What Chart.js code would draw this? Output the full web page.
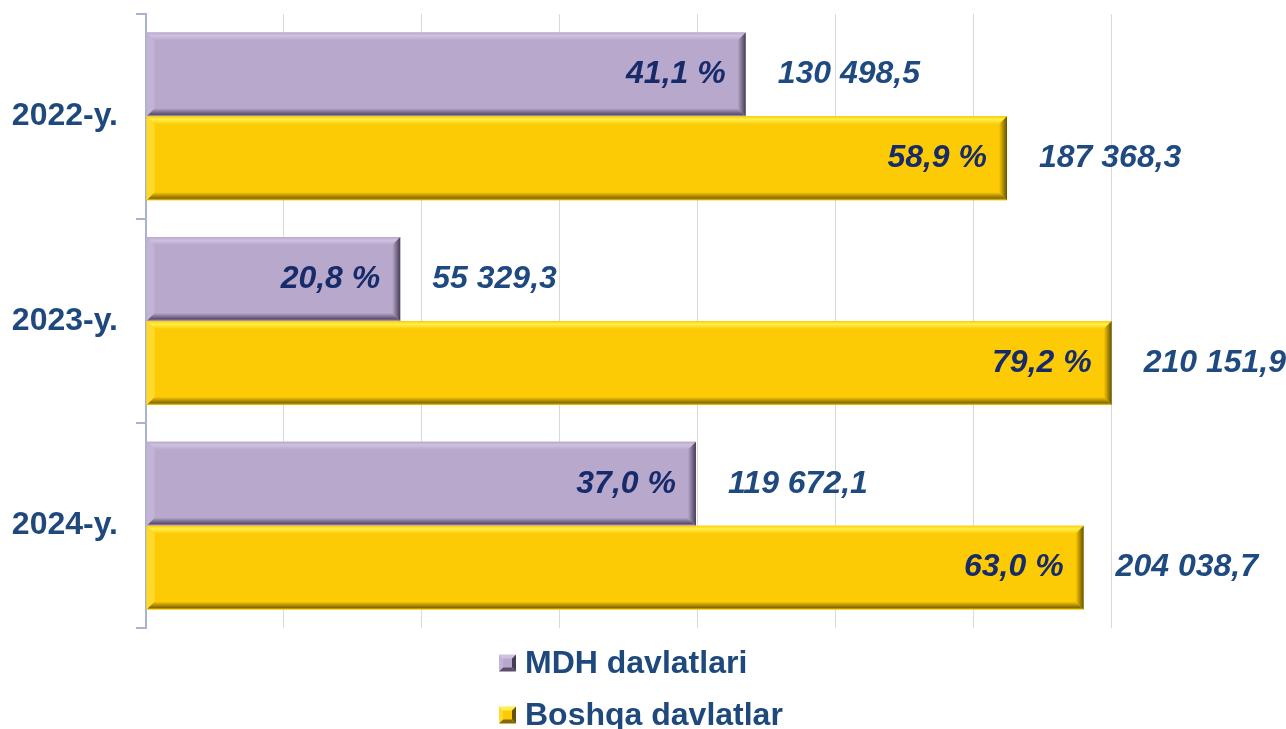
<!DOCTYPE html>
<html>
<head>
<meta charset="utf-8">
<script src="https://cdn.jsdelivr.net/npm/chart.js@4.4.1/dist/chart.umd.min.js"></script>
<style>
  html, body { margin: 0; padding: 0; background: #fff; }
  #wrap { width: 1286px; height: 729px; }
</style>
</head>
<body>
<div id="wrap"><canvas id="chart"></canvas></div>
<script>
// chart data
var years = ['2022-y.', '2023-y.', '2024-y.'];
var seriesNames = ['MDH davlatlari', 'Boshqa davlatlar'];
var mdhValues = [130498.5, 55329.3, 119672.1];
var otherValues = [187368.3, 210151.9, 204038.7];
var mdhShares = [41.1, 20.8, 37.0];
var otherShares = [58.9, 79.2, 63.0];

var FONT = 'Arial, "Liberation Sans", sans-serif';

// face + bevel colours for each series
var palettes = [
    {face: '#B7A8CC', top: '#CFC2E0', left: '#C2B4D6', bottom: '#5A4E6C', right: '#463C55'},
    {face: '#FDCB05', top: '#FFF04A', left: '#FFD92E', bottom: '#846900', right: '#665200'}
];

function fmtValue(v) {
    var parts = v.toFixed(1).split('.');
    return parts[0].replace(/\B(?=(\d{3})+(?!\d))/g, ' ') + ',' + parts[1];
}
function fmtShare(v) {
    return v.toFixed(1).replace('.', ',') + ' %';
}

function poly(ctx, pts, fill) {
    ctx.beginPath();
    ctx.moveTo(pts[0][0], pts[0][1]);
    for (var i = 1; i < pts.length; i++) ctx.lineTo(pts[i][0], pts[i][1]);
    ctx.closePath();
    ctx.fillStyle = fill;
    ctx.fill();
}

// draws the bevelled edges on top of every bar
var bevelPlugin = {
    id: 'bevel',
    afterDatasetsDraw: function(chart) {
        var ctx = chart.ctx;
        chart.data.datasets.forEach(function(ds, i) {
            var pal = palettes[i];
            chart.getDatasetMeta(i).data.forEach(function(el) {
                var p = el.getProps(['x', 'y', 'base', 'height'], true);
                var l = Math.min(p.base, p.x), r = Math.max(p.base, p.x);
                var t = p.y - p.height / 2, b = p.y + p.height / 2;
                var d = 8;
                ctx.save();
                var gt = ctx.createLinearGradient(0, t, 0, t + d);
                gt.addColorStop(0, pal.face);
                gt.addColorStop(0.4, pal.top);
                gt.addColorStop(1, pal.face);
                poly(ctx, [[l, t], [r, t], [r - d, t + d], [l + d, t + d]], gt);
                var gb = ctx.createLinearGradient(0, b - d, 0, b);
                gb.addColorStop(0, pal.face);
                gb.addColorStop(0.75, pal.bottom);
                gb.addColorStop(1, pal.face);
                poly(ctx, [[l, b], [r, b], [r - d, b - d], [l + d, b - d]], gb);
                poly(ctx, [[l, t], [l + d, t + d], [l + d, b - d], [l, b]], pal.left);
                var gr = ctx.createLinearGradient(r - d, 0, r, 0);
                gr.addColorStop(0, pal.face);
                gr.addColorStop(1, pal.right);
                poly(ctx, [[r, t], [r, b], [r - d, b - d], [r - d, t + d]], gr);
                ctx.restore();
            });
        });
    }
};

// share inside the bar, value after it
var labelPlugin = {
    id: 'barLabels',
    afterDatasetsDraw: function(chart) {
        var ctx = chart.ctx;
        var shares = [mdhShares, otherShares];
        ctx.save();
        ctx.font = 'italic bold 32px ' + FONT;
        ctx.textBaseline = 'middle';
        chart.data.datasets.forEach(function(ds, i) {
            chart.getDatasetMeta(i).data.forEach(function(el, j) {
                var y = el.y;
                ctx.fillStyle = '#172B6A';
                ctx.textAlign = 'right';
                ctx.fillText(fmtShare(shares[i][j]), el.x - 20, y);
                ctx.fillStyle = '#1F4A80';
                ctx.textAlign = 'left';
                ctx.fillText(fmtValue(ds.data[j]), el.x + 32, y);
            });
        });
        ctx.restore();
    }
};

// vertical legend under the plot
var legendPlugin = {
    id: 'stackLegend',
    afterDraw: function(chart) {
        var ctx = chart.ctx;
        var x0 = 499, rows = [663, 715], s = 17;
        ctx.save();
        chart.data.datasets.forEach(function(ds, i) {
            var pal = palettes[i];
            var cy = rows[i], top = cy - s / 2;
            var cx = x0 + s / 2;
            poly(ctx, [[x0, top], [x0 + s, top], [cx, cy]], pal.top);
            poly(ctx, [[x0, top], [cx, cy], [x0, top + s]], pal.left);
            poly(ctx, [[x0 + s, top], [x0 + s, top + s], [cx, cy]], pal.right);
            poly(ctx, [[x0, top + s], [x0 + s, top + s], [cx, cy]], pal.bottom);
            ctx.fillStyle = pal.face;
            ctx.fillRect(x0 + 4, top + 4, s - 8, s - 8);
            ctx.font = 'bold 32px ' + FONT;
            ctx.fillStyle = '#1F497D';
            ctx.textAlign = 'left';
            ctx.textBaseline = 'middle';
            ctx.fillText(ds.label, x0 + 26, cy + 1);
        });
        ctx.restore();
    }
};

var ctx = document.getElementById('chart').getContext('2d');
var chart = new Chart(ctx, {
    type: 'bar',
    data: {
        labels: years,
        datasets: [
            {label: seriesNames[0], data: mdhValues, backgroundColor: palettes[0].face},
            {label: seriesNames[1], data: otherValues, backgroundColor: palettes[1].face}
        ]
    },
    options: {
        indexAxis: 'y',
        responsive: true,
        maintainAspectRatio: false,
        animation: false,
        devicePixelRatio: 1,
        categoryPercentage: 0.82,
        barPercentage: 1,
        layout: {padding: {top: 14, right: 175, bottom: 101, left: 0}},
        plugins: {
            legend: {display: false},
            tooltip: {enabled: false}
        },
        scales: {
            x: {
                min: 0,
                max: 210000,
                ticks: {display: false, stepSize: 30000},
                grid: {color: '#D9D9D9', lineWidth: 1, drawTicks: false},
                border: {display: false},
                afterFit: function(scale) { scale.height = 0; }
            },
            y: {
                ticks: {
                    color: '#1F497D',
                    font: {family: FONT, size: 32, weight: 'bold'},
                    padding: 18
                },
                grid: {drawOnChartArea: false, color: '#A9B3CE', lineWidth: 2, tickLength: 10},
                border: {color: '#A9B3CE', width: 2},
                afterFit: function(scale) {
                    scale.width = 146;
                    scale.paddingTop = 0;
                    scale.paddingBottom = 0;
                }
            }
        }
    },
    plugins: [bevelPlugin, labelPlugin, legendPlugin]
});
</script>
</body>
</html>
